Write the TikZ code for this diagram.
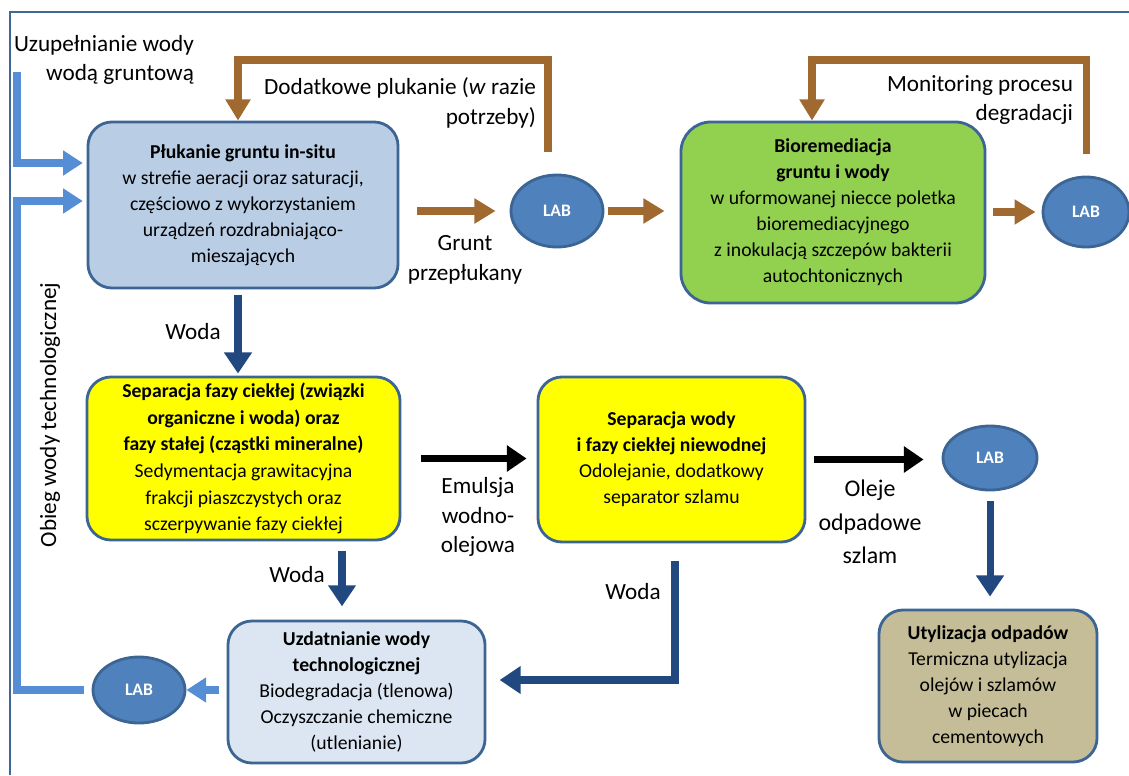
\documentclass[tikz,border=0pt]{standalone}
\usepackage{fontspec}
\setmainfont{Carlito}
\usetikzlibrary{shapes.geometric,arrows.meta}
\definecolor{frame}{HTML}{3F6797}
\definecolor{edge}{HTML}{3C6594}
\definecolor{flushfill}{HTML}{B9CDE5}
\definecolor{biofill}{HTML}{92D050}
\definecolor{sepfill}{HTML}{FFFF00}
\definecolor{wastefill}{HTML}{C4BD97}
\definecolor{waterfill}{HTML}{DCE6F2}
\definecolor{labfill}{HTML}{4F81BD}
\definecolor{soil}{HTML}{A0692F}
\definecolor{darkwater}{HTML}{21497F}
\definecolor{lightwater}{HTML}{558ED5}

\begin{document}
\begin{tikzpicture}[x=0.025cm,y=-0.025cm,
  box/.style={draw=edge,line width=2pt,rounded corners=0.6cm,align=center,font=\fontsize{14}{18.5}\selectfont},
  lab/.style={ellipse,draw=edge,line width=2pt,fill=labfill,text=white,font=\bfseries\fontsize{12.5}{14}\selectfont},
  txt/.style={align=center,font=\fontsize{16.5}{21}\selectfont},
  brarrow/.style={draw=soil,line width=5pt,-{Triangle[width=17pt,length=15pt]}},
  dbarrow/.style={draw=darkwater,line width=5pt,-{Triangle[width=19pt,length=15pt]}},
  lbarrow/.style={draw=lightwater,line width=5.5pt,-{Triangle[width=17pt,length=14pt]}},
  blarrow/.style={draw=black,line width=5.5pt,-{Triangle[width=18pt,length=14pt]}}]
  \tikzstyle{every node}+=[inner sep=0pt]
  \useasboundingbox (0,0) rectangle (1129,775);
  \draw [frame,line width=2pt] (10,775) |- (1129,12);

  \node [box,fill=flushfill,minimum width=7.75cm,minimum height=4.15cm] (plukanie) at (243,205)
    {\textbf{Płukanie gruntu in-situ}\\w strefie aeracji oraz saturacji,\\częściowo z wykorzystaniem\\urządzeń rozdrabniająco-\\mieszających};
  \node [box,fill=biofill,minimum width=7.6cm,minimum height=4.525cm,rounded corners=0.75cm] (bioremediacja) at (833,212.5)
    {\textbf{Bioremediacja}\\\textbf{gruntu i wody}\\w uformowanej niecce poletka\\bioremediacyjnego\\z inokulacją szczepów bakterii\\autochtonicznych};
  \node [box,fill=sepfill,minimum width=7.825cm,minimum height=4.075cm,font=\fontsize{14}{19}\selectfont] (separacja) at (243.5,458.5)
    {\textbf{Separacja fazy ciekłej (związki}\\\textbf{organiczne i woda) oraz}\\\textbf{fazy stałej (cząstki mineralne)}\\Sedymentacja grawitacyjna\\frakcji piaszczystych oraz\\sczerpywanie fazy ciekłej};
  \node [box,fill=sepfill,minimum width=6.675cm,minimum height=4.125cm] (separator) at (671.5,459.5)
    {\textbf{Separacja wody}\\\textbf{i fazy ciekłej niewodnej}\\Odolejanie, dodatkowy\\separator szlamu};
  \node [box,fill=wastefill,minimum width=5.45cm,minimum height=3.8cm] (utylizacja) at (988,686)
    {\textbf{Utylizacja odpadów}\\Termiczna utylizacja\\olejów i szlamów\\w piecach\\cementowych};
  \node [box,fill=waterfill,minimum width=6.425cm,minimum height=3.55cm] (uzdatnianie) at (356.5,692)
    {\textbf{Uzdatnianie wody}\\\textbf{technologicznej}\\Biodegradacja (tlenowa)\\Oczyszczanie chemiczne\\(utlenianie)};

  \node [lab,minimum width=2.3cm,minimum height=1.8cm] (lab1) at (557,211) {LAB};
  \node [lab,minimum width=2.15cm,minimum height=1.75cm] (lab2) at (1086,212) {LAB};
  \node [lab,minimum width=2.35cm,minimum height=1.6cm] (lab3) at (990,458) {LAB};
  \node [lab,minimum width=2.3cm,minimum height=1.65cm] (lab4) at (139,690) {LAB};

  \node [txt,align=right] (uzupelnianie) at (104,60) {Uzupełnianie wody\\wodą gruntową};
  \node [txt,align=right] (dodatkowe) at (400,103) {Dodatkowe plukanie (\textit{w} razie\\potrzeby)};
  \node [txt] (grunt) at (465,260) {Grunt\\przepłukany};
  \node [txt,align=right] (monitoring) at (980,100) {Monitoring procesu\\degradacji};
  \node [txt] (woda1) at (193,332) {Woda};
  \node [txt] (emulsja) at (478,517) {Emulsja\\wodno-\\olejowa};
  \node [txt,font=\fontsize{17}{24}\selectfont] (oleje) at (870,522) {Oleje\\odpadowe\\szlam};
  \node [txt] (woda2) at (297,575) {Woda};
  \node [txt] (woda3) at (633,592) {Woda};
  \node [txt,rotate=90] (obieg) at (50,415) {Obieg wody technologicznej};

  \coordinate (zrodlo) at (17,72);
  \coordinate (wlot1) at (88,163);
  \coordinate (wlot2) at (88,201);
  \coordinate (petla1) at (238,60);
  \coordinate (petla2) at (812,60);
  \coordinate (zejscie) at (238,0);
  \coordinate (odplyw) at (342,0);
  \coordinate (zakret) at (675,680);

  \draw [lbarrow,shorten >=0.13cm] (zrodlo) |- (wlot1);
  \draw [lbarrow,shorten <=0.2cm,shorten >=0.13cm] (lab4.west) -- (lab4.west -| zrodlo) |- (wlot2);
  \draw [lbarrow,shorten <=0.2cm] (uzdatnianie.west |- lab4) -- (lab4.east);

  \draw [brarrow,shorten <=0.55cm] ([xshift=-0.225cm]lab1.north) |- (petla1) -- (petla1 |- plukanie.north);
  \draw [brarrow,shorten <=0.45cm,shorten >=0.35cm] (plukanie.east |- lab1) -- (lab1.west);
  \draw [brarrow,shorten <=0.08cm,shorten >=0.375cm] (lab1.east) -- (lab1.east -| bioremediacja.west);
  \draw [brarrow,shorten <=0.55cm] (lab2.north) |- (petla2) -- (petla2 |- bioremediacja.north);
  \draw [brarrow,shorten <=0.175cm,shorten >=0.15cm] (bioremediacja.east |- lab2) -- (lab2.west);

  \draw [dbarrow,shorten <=0.13cm,shorten >=0.05cm] (plukanie.south -| zejscie) -- (separacja.north -| zejscie);
  \draw [blarrow,shorten <=0.5cm,shorten >=0.25cm] (separacja.east) -- (separacja.east -| separator.west);
  \draw [blarrow,shorten <=0.2cm,shorten >=0.45cm] (separator.east) -- (separator.east -| lab3.west);
  \draw [dbarrow,shorten <=0.25cm,shorten >=0.3cm] (lab3.south) -- (lab3.south |- utylizacja.north);
  \draw [dbarrow,shorten <=0.25cm,shorten >=0.33cm] (separacja.south -| odplyw) -- (uzdatnianie.north -| odplyw);
  \draw [dbarrow,shorten <=0.45cm,shorten >=0.33cm] (separator.south -| zakret) -- (zakret) -- (zakret -| uzdatnianie.east);
\end{tikzpicture}
\end{document}
